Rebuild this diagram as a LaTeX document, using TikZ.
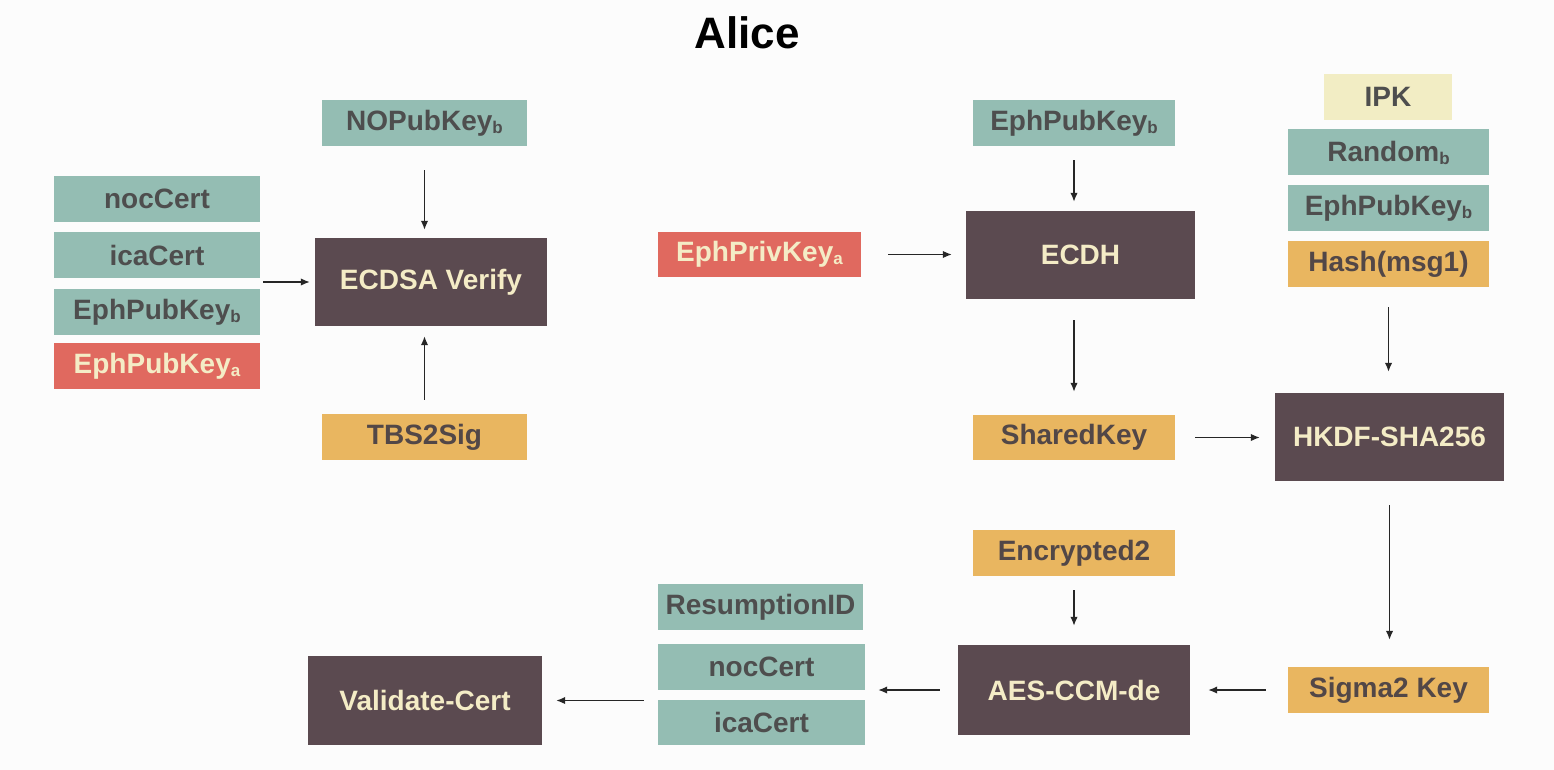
\documentclass[tikz,border=0pt]{standalone}
\usepackage{fontspec}
\setmainfont{Liberation Sans}
\usetikzlibrary{arrows.meta}
\definecolor{bgc}{HTML}{FCFCFC}
\definecolor{tealc}{HTML}{94BDB3}
\definecolor{redc}{HTML}{E0695F}
\definecolor{orangec}{HTML}{E9B660}
\definecolor{ipkc}{HTML}{F2EDC4}
\definecolor{darkc}{HTML}{5B4A50}
\definecolor{creamc}{HTML}{F4ECC6}
\definecolor{greytxt}{HTML}{4E4E4E}
\definecolor{browntxt}{HTML}{524747}
\newcommand{\subb}[1]{\raisebox{-3pt}{\fontsize{17}{17}\selectfont #1}}
\tikzset{
  box/.style={rectangle, inner sep=0pt, minimum height=46pt, font=\bfseries\fontsize{28}{28}\selectfont},
  tealbox/.style={box, fill=tealc, text=greytxt},
  redbox/.style={box, fill=redc, text=creamc},
  orangebox/.style={box, fill=orangec, text=browntxt},
  ipkbox/.style={box, fill=ipkc, text=greytxt},
  darkbox/.style={rectangle, inner sep=0pt, minimum height=88pt, fill=darkc, text=creamc, font=\bfseries\fontsize{28}{28}\selectfont},
  arr/.style={draw=black!85, line width=1.5pt, -{Latex[length=9pt,width=7.5pt]}}
}
\begin{document}
\begin{tikzpicture}[x=1pt,y=-1pt]
\fill[bgc] (0,0) rectangle (1554,770);
\useasboundingbox (0,0) rectangle (1554,770);

\node[font=\bfseries\fontsize{44}{44}\selectfont, text=black] (title) at (747,33) {Alice};

% left stack
\node[tealbox, minimum width=206pt] (noc1) at (157,199) {nocCert};
\node[tealbox, minimum width=206pt] (ica1) at (157,255) {icaCert};
\node[tealbox, minimum width=206pt] (ephb1) at (157,312) {EphPubKey\subb{b}};
\node[redbox, minimum width=206pt] (epha1) at (157,366) {EphPubKey\subb{a}};

\node[darkbox, minimum width=232pt] (ecdsa) at (431,282) {ECDSA Verify};
\node[tealbox, minimum width=205pt] (nopub) at (424.5,123) {NOPubKey\subb{b}};
\node[orangebox, minimum width=205pt] (tbs) at (424.5,437) {TBS2Sig};

% middle
\node[redbox, minimum width=203pt, minimum height=45pt] (ephpriv) at (759.5,254.5) {EphPrivKey\subb{a}};
\node[darkbox, minimum width=229pt] (ecdh) at (1080.5,255) {ECDH};
\node[tealbox, minimum width=202pt] (ephb2) at (1074,123) {EphPubKey\subb{b}};
\node[orangebox, minimum width=202pt, minimum height=45pt] (shared) at (1074,437.5) {SharedKey};
\node[darkbox, minimum width=229pt] (hkdf) at (1389.5,437) {HKDF-SHA256};

% right stack
\node[ipkbox, minimum width=128pt] (ipk) at (1388,97) {IPK};
\node[tealbox, minimum width=201pt] (randb) at (1388.5,152.5) {Random\subb{b}};
\node[tealbox, minimum width=201pt] (ephb3) at (1388.5,208) {EphPubKey\subb{b}};
\node[orangebox, minimum width=201pt] (hash) at (1388.5,264) {Hash(msg1)};

% bottom row
\node[orangebox, minimum width=201pt] (sigma) at (1388.5,690) {Sigma2 Key};
\node[darkbox, minimum width=232pt, minimum height=90pt] (aes) at (1074,690) {AES-CCM-de};
\node[orangebox, minimum width=202pt] (enc2) at (1074,553) {Encrypted2};
\node[tealbox, minimum width=205pt] (resid) at (760.5,607) {ResumptionID};
\node[tealbox, minimum width=207pt] (noc2) at (761.5,667) {nocCert};
\node[tealbox, minimum width=207pt, minimum height=45pt] (ica2) at (761.5,722.5) {icaCert};
\node[darkbox, minimum width=234pt, minimum height=89pt] (validate) at (425,700.5) {Validate-Cert};

% connectors
\draw[arr, shorten <=3pt, shorten >=5pt] (ecdsa.west -| ica1.east) -- (ecdsa.west);
\draw[arr, shorten <=24pt, shorten >=8pt] (nopub.south) -- (nopub.south |- ecdsa.north);
\draw[arr, shorten <=14pt, shorten >=10pt] (tbs.north) -- (tbs.north |- ecdsa.south);
\draw[arr, shorten <=27pt, shorten >=14pt] (ephpriv.east) -- (ephpriv.east -| ecdh.west);
\draw[arr, shorten <=14pt, shorten >=9pt] (ephb2.south) -- (ephb2.south |- ecdh.north);
\draw[arr, shorten <=21pt, shorten >=23pt] (ecdh.south -| shared.north) -- (shared.north);
\draw[arr, shorten <=20pt, shorten >=15pt] (shared.east) -- (shared.east -| hkdf.west);
\draw[arr, shorten <=20pt, shorten >=21pt] (hash.south) -- (hash.south |- hkdf.north);
\draw[arr, shorten <=24pt, shorten >=27pt] (hkdf.south) -- (hkdf.south |- sigma.north);
\draw[arr, shorten <=22pt, shorten >=18pt] (sigma.west) -- (sigma.west -| aes.east);
\draw[arr, shorten <=14pt, shorten >=19pt] (enc2.south) -- (enc2.south |- aes.north);
\draw[arr, shorten <=18pt, shorten >=13pt] (aes.west) -- (aes.west -| noc2.east);
\draw[arr, shorten <=14pt, shorten >=14pt] (validate.east -| noc2.west) -- (validate.east);
\end{tikzpicture}
\end{document}
